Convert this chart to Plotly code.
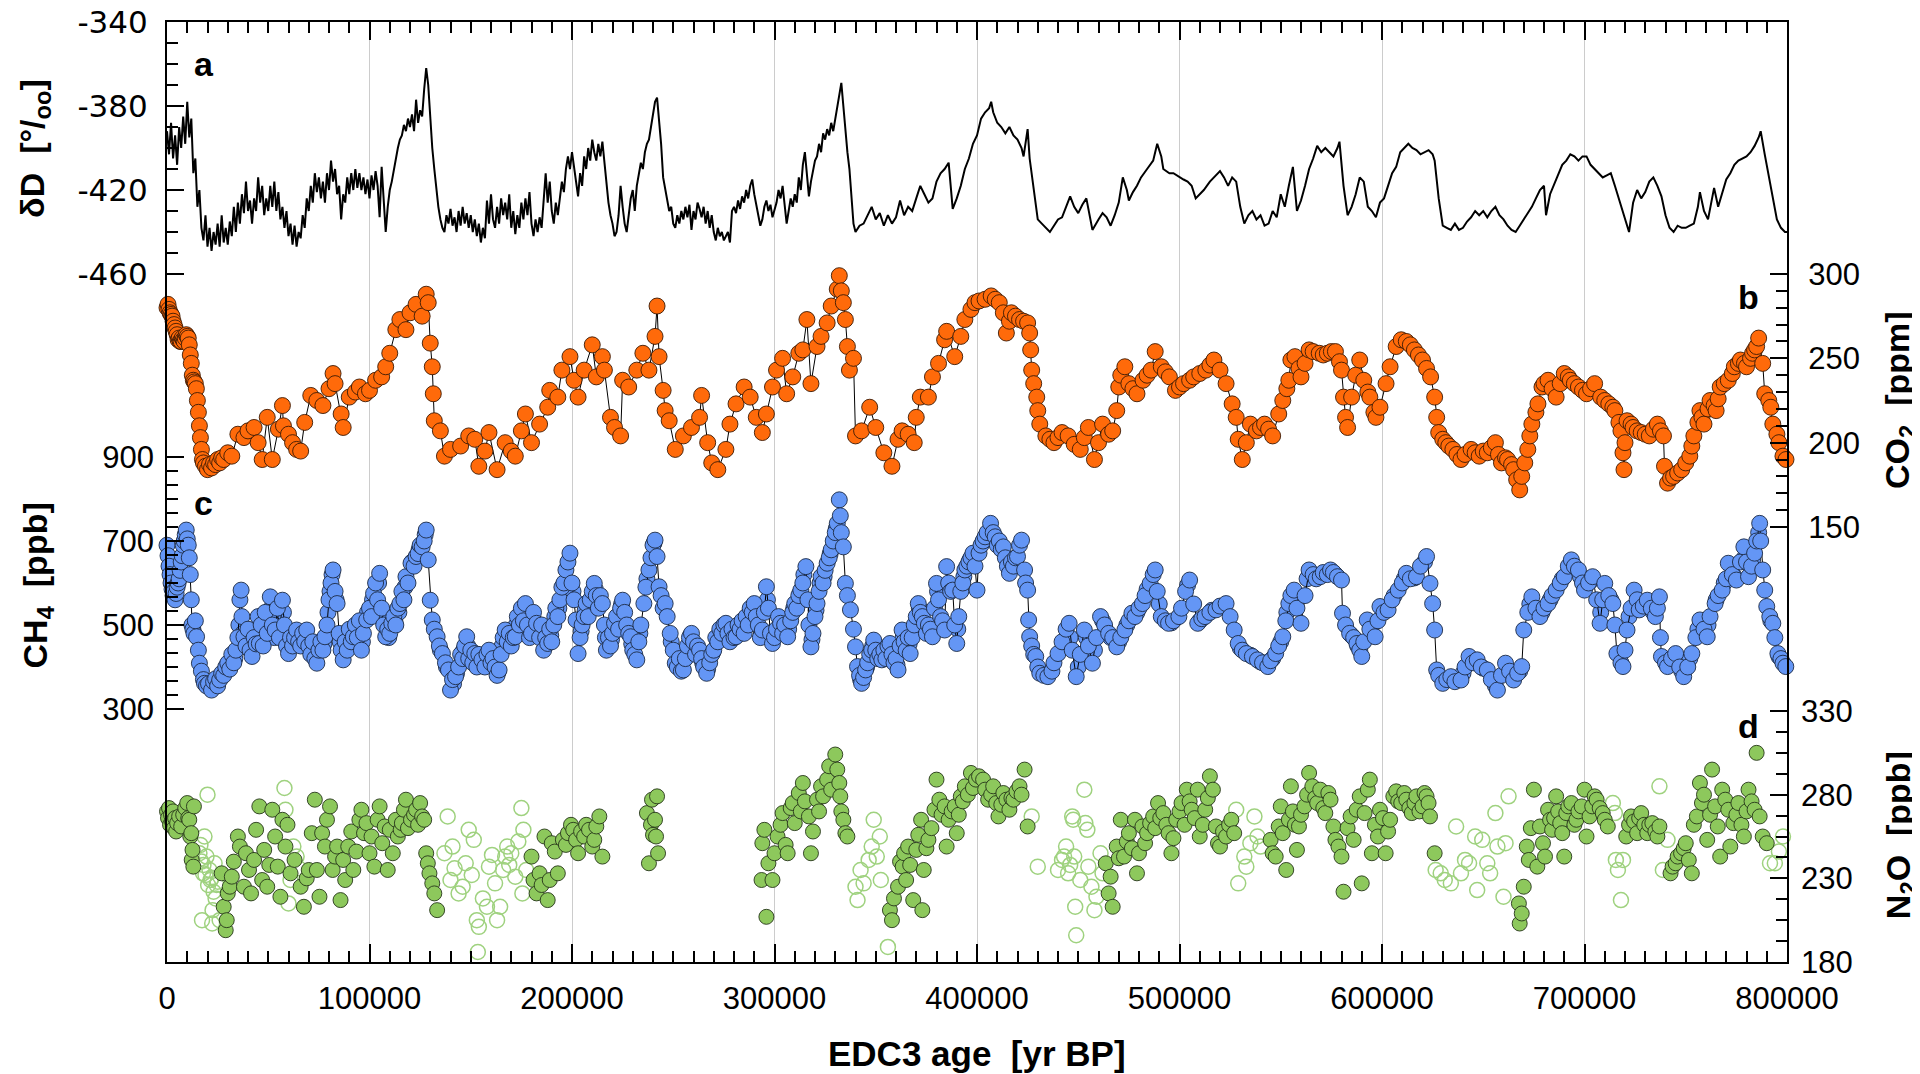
import plotly.graph_objects as go

# ---------------- DATA ----------------
# (a) deltaD [permil] vs EDC3 age [ka]
dd_age_ka = [
    0, 1, 2, 3, 4, 5, 6, 7, 8, 9, 10, 11, 12, 13, 14, 15, 16, 17, 18, 19,
    20, 21, 22, 23, 24, 25, 26, 27, 28, 29, 30, 31, 32, 33, 34, 35, 36, 37, 38, 39,
    40, 41, 42, 43, 44, 45, 46, 47, 48, 49, 50, 51, 52, 53, 54, 55, 56, 57, 58, 59,
    60, 61, 62, 63, 64, 65, 66, 67, 68, 69, 70, 71, 72, 73, 74, 75, 76, 77, 78, 79,
    80, 81, 82, 83, 84, 85, 86, 87, 88, 89, 90, 91, 92, 93, 94, 95, 96, 97, 98, 99,
    100, 101, 102, 103, 104, 105, 106, 107, 108, 109, 110, 111, 112, 113, 114, 115, 116, 117, 118, 119,
    120, 121, 122, 123, 124, 125, 126, 127, 128, 129, 130, 131, 132, 133, 134, 135, 136, 137, 138, 139,
    140, 141, 142, 143, 144, 145, 146, 147, 148, 149, 150, 151, 152, 153, 154, 155, 156, 157, 158, 159,
    160, 161, 162, 163, 164, 165, 166, 167, 168, 169, 170, 171, 172, 173, 174, 175, 176, 177, 178, 179,
    180, 181, 182, 183, 184, 185, 186, 187, 188, 189, 190, 191, 192, 193, 194, 195, 196, 197, 198, 199,
    200, 201, 202, 203, 204, 205, 206, 207, 208, 209, 210, 211, 212, 213, 214, 215, 216, 217, 218, 219,
    220, 221, 222, 223, 224, 225, 226, 227, 228, 229, 230, 231, 232, 233, 234, 235, 236, 237, 238, 239,
    240, 241, 242, 243, 244, 245, 246, 247, 248, 249, 250, 251, 252, 253, 254, 255, 256, 257, 258, 259,
    260, 261, 262, 263, 264, 265, 266, 267, 268, 269, 270, 271, 272, 273, 274, 275, 276, 277, 278, 279,
    280, 281, 282, 283, 284, 285, 286, 287, 288, 289, 290, 291, 292, 293, 294, 295, 296, 297, 298, 299,
    300, 301, 302, 303, 304, 305, 306, 307, 308, 309, 310, 311, 312, 313, 314, 315, 316, 317, 318, 319,
    320, 321, 322, 323, 324, 325, 326, 327, 328, 329, 330, 331, 332, 333, 334, 335, 336, 337, 338, 339, 340,
    342, 344, 346, 348, 350, 352, 354, 356, 358, 360, 362, 364, 366, 368, 370, 372, 374, 376, 378, 380,
    382, 384, 386, 388, 390, 392, 394, 396, 398, 400, 402, 404, 406, 407, 408, 410, 412, 414, 416, 418,
    420, 422, 423, 425, 426, 428, 430, 432, 434, 436, 438, 440, 442, 444, 446, 448, 450, 452, 454, 456,
    457, 460, 462, 464, 466, 468, 470, 472, 474, 475, 477, 479, 481, 484, 487, 489, 491, 492, 495, 497,
    500, 502, 504, 506, 508, 510, 512, 515, 518, 520, 522, 524, 526, 528, 530, 532, 534, 536, 538, 540,
    542, 544, 546, 548, 550, 552, 554, 556, 558, 560, 562, 564, 566, 568, 570, 572, 574, 576, 578, 579,
    581, 583, 585, 587, 589, 591, 593, 595, 597, 599, 601, 603, 605, 607, 609, 611, 613, 615, 617, 619,
    621, 623, 625, 626, 628, 630, 632, 634, 636, 638, 640, 642, 644, 646, 648, 650, 652, 654, 656, 658,
    660, 662, 664, 666, 668, 670, 672, 674, 676, 678, 680, 681, 683, 685, 687, 689, 691, 693, 695, 697,
    699, 701, 703, 705, 707, 709, 711, 713, 715, 717, 719, 721, 722, 724, 726, 728, 730, 732, 734, 736,
    738, 740, 742, 744, 746, 748, 750, 752, 754, 756, 757, 759, 761, 763, 764, 766, 768, 770, 772, 774,
    776, 778, 780, 782, 784, 786, 787, 789, 791, 793, 795, 797, 799, 800,
]
dd_permil = [
    -392, -403, -388, -405, -394, -408, -390, -400, -385, -398, -378, -395, -386, -412, -405, -428, -420, -438, -444, -432,
    -447, -438, -449, -440, -446, -436, -447, -432, -445, -438, -446, -435, -442, -428, -440, -426, -436, -422, -431, -416,
    -430, -425, -436, -424, -430, -414, -426, -418, -432, -424, -430, -418, -428, -416, -430, -421, -434, -428, -438, -430,
    -442, -436, -446, -437, -447, -440, -443, -432, -438, -424, -430, -418, -426, -412, -421, -414, -424, -416, -426, -412,
    -420, -406, -416, -410, -422, -418, -434, -422, -426, -414, -422, -412, -420, -410, -419, -412, -420, -414, -422, -415,
    -424, -413, -420, -411, -418, -433, -409, -424, -440, -428, -420, -416, -410, -405, -400, -396, -394, -389, -392, -386,
    -390, -384, -392, -377, -388, -382, -385, -372, -362, -370, -388, -400, -410, -420, -428, -434, -438, -440, -432, -436,
    -429, -437, -433, -440, -430, -437, -428, -436, -431, -438, -432, -440, -434, -442, -436, -445, -438, -443, -425, -436,
    -422, -434, -438, -428, -436, -424, -432, -426, -434, -422, -438, -430, -441, -432, -438, -426, -434, -424, -432, -421,
    -436, -442, -434, -440, -433, -438, -424, -412, -426, -416, -430, -436, -426, -432, -424, -416, -421, -410, -404, -410,
    -402, -408, -416, -423, -412, -418, -404, -410, -400, -406, -396, -402, -406, -398, -404, -397, -408, -418, -426, -432,
    -436, -442, -440, -432, -418, -428, -436, -440, -433, -424, -420, -430, -418, -412, -407, -410, -402, -398, -396, -390,
    -384, -378, -376, -386, -398, -414, -420, -426, -430, -428, -436, -438, -432, -436, -430, -434, -428, -433, -427, -439,
    -430, -434, -426, -429, -433, -428, -436, -430, -438, -432, -440, -444, -438, -442, -440, -444, -442, -440, -445, -430,
    -428, -431, -425, -429, -423, -426, -420, -424, -418, -415, -422, -428, -432, -437, -434, -428, -425, -430, -427, -433,
    -430, -426, -420, -424, -418, -428, -436, -430, -424, -428, -422, -426, -414, -420, -408, -402, -412, -423, -416, -410,
    -406, -404, -398, -402, -393, -396, -391, -394, -388, -392, -386, -381, -374, -369, -380, -392, -402, -410, -425, -436, -440,
    -437, -436, -432, -428, -434, -431, -437, -432, -436, -433, -425, -432, -428, -430, -424, -418, -422, -426, -424, -416,
    -412, -410, -407, -429, -424, -418, -410, -405, -398, -394, -386, -383, -381, -378, -383, -388, -390, -393, -390, -394,
    -396, -400, -404, -391, -405, -420, -434, -436, -438, -440, -437, -434, -433, -428, -423, -428, -431, -427, -424, -434,
    -439, -434, -431, -433, -437, -432, -426, -414, -420, -425, -421, -418, -414, -410, -406, -398, -404, -410, -412, -412,
    -414, -415, -416, -418, -424, -422, -420, -416, -413, -411, -414, -418, -414, -416, -428, -436, -432, -430, -434, -432,
    -437, -436, -430, -433, -422, -428, -418, -409, -430, -425, -418, -410, -405, -399, -402, -400, -402, -404, -400, -397,
    -418, -432, -428, -422, -414, -416, -428, -430, -433, -426, -424, -418, -412, -409, -402, -400, -398, -400, -401, -403,
    -402, -401, -403, -406, -424, -437, -438, -439, -436, -439, -438, -435, -433, -430, -432, -430, -433, -430, -428, -432,
    -434, -437, -439, -440, -437, -434, -431, -428, -424, -420, -418, -432, -422, -417, -412, -408, -406, -403, -404, -406,
    -404, -404, -408, -410, -412, -414, -413, -412, -418, -424, -430, -437, -440, -426, -420, -424, -421, -416, -414, -418,
    -423, -432, -438, -440, -437, -438, -438, -437, -436, -428, -421, -430, -434, -424, -419, -428, -421, -415, -412, -408,
    -406, -405, -404, -402, -399, -395, -392, -403, -414, -424, -434, -438, -440, -440,
]

# (b) CO2 [ppm] vs age [ka]
co2_age_ka = [
    0, 0.5, 1, 1.5, 2, 2.5, 3, 3.5, 4, 4.5, 5, 5.5, 6, 6.5, 7, 7.5, 8, 8.5, 9, 9.5,
    10, 10.5, 11, 11.5, 12, 12.5, 13, 13.5, 14, 14.5, 15, 15.5, 16, 16.5, 17, 17.5, 18, 19, 20, 21,
    22, 23, 24, 25, 26, 27, 28, 30, 32, 35, 38, 40, 43, 45, 47, 49.5, 52, 55, 57, 57.5,
    60, 62, 64, 66, 68, 71, 74, 77, 80, 82, 83, 86, 87, 90, 93, 95, 98, 100, 103, 106,
    108, 110, 113, 115, 118, 120, 123, 126, 128, 129, 130, 131, 131.5, 132, 135, 137, 140, 145, 149, 152,
    154, 157, 159, 163, 167, 170, 172, 175, 177, 180, 184, 188, 189, 193, 195, 199, 201, 203, 206, 210,
    212, 215, 216, 219, 221, 224, 225, 228, 232, 235, 238, 241, 242, 243, 245, 246, 248, 251, 255, 259,
    263, 264, 267, 269, 272, 276, 278, 281, 285, 288, 291, 294, 296, 299, 301, 304, 306, 309, 312, 314,
    316, 318, 321, 323, 326, 328, 331, 332, 333, 334, 335, 336, 337, 339, 340, 343, 347, 350, 354, 358,
    361, 363, 366, 369, 370, 372, 376, 378, 381, 384, 385, 389, 392, 394, 397, 399,
    401, 404, 407, 409, 411, 413, 414.5, 416, 417, 419, 421, 423, 425, 426, 426.5, 427, 428, 429.5, 430, 431,
    434, 436, 438, 440, 442, 445, 448, 451, 453, 455, 458, 460, 462, 465, 467, 469, 470, 471, 473, 475,
    477, 479, 482, 484, 486, 488, 491, 493, 495, 498, 500, 502, 505, 507, 510, 513, 515, 517, 520, 523,
    526, 528, 529, 531, 533, 535, 538, 540, 542, 544, 546, 549, 551, 553, 554, 555, 557, 559, 560, 562,
    564, 566, 569, 571, 573, 575, 577, 579, 580, 581, 582, 583, 585, 587, 589, 591, 593, 594, 596, 597,
    599, 602, 604, 607, 609.5, 612, 614, 616, 618, 620, 622, 624, 626, 627, 628, 630, 631.5, 633, 635, 637,
    639, 641, 644, 646, 648, 650, 652, 654, 656, 657.5, 659, 661, 662, 664, 665, 666.5, 668, 669, 670.5, 672,
    673, 674, 676, 677, 679, 680, 682, 684, 686, 688, 690, 692, 693, 695, 697, 699, 701, 703, 705, 708,
    710, 712, 714, 715, 717, 718, 719, 719.5, 720, 721, 723, 724, 726, 728, 730, 732, 734, 736, 737.5, 739,
    739.5, 741, 742.5, 744, 746, 748, 750, 752, 753, 754, 756, 757, 758, 759, 761, 762, 764, 765, 766, 767,
    769, 771, 773, 774, 776, 777, 779, 780, 782, 783, 784, 785, 786, 788, 789, 791, 792, 793, 795, 796,
    798, 799.5,
]
co2_ppm = [
    280, 282, 279, 277, 276, 275, 272, 270, 268, 266, 264, 261, 262, 260, 260, 262, 261, 260, 262, 264,
    263, 262, 258, 252, 247, 240, 237, 236, 235, 232, 225, 218, 210, 203, 196, 190, 188, 186, 184, 187,
    185, 188, 187, 190, 188, 191, 190, 194, 192, 205, 203, 207, 209, 200, 190, 215, 190, 208, 222, 210,
    205, 200, 196, 195, 212, 228, 225, 222, 232, 241, 235, 217, 209, 227, 230, 233, 229, 231, 237, 239,
    245, 253, 267, 273, 267, 277, 282, 275, 288, 283, 259, 245, 229, 213, 207, 192, 196, 198, 204, 202,
    186, 195, 206, 184, 200, 195, 192, 207, 217, 200, 211, 221, 231, 227, 243, 251, 237, 227, 243, 258,
    239, 251, 243, 215, 209, 204, 237, 233, 243, 253, 243, 263, 281, 251, 231, 219, 213, 196, 204, 209,
    215, 228, 200, 188, 184, 196, 211, 223, 233, 227, 215, 206, 217, 233, 243, 250, 229, 239, 253, 255,
    273, 235, 257, 263, 271, 281, 291, 299, 290, 283, 273, 257, 243, 250, 204, 207, 221, 209, 194, 186,
    202, 207, 205, 200, 215, 227, 227, 239, 247, 261, 266, 251, 263, 273, 279, 283,
    284, 285, 287, 285, 283, 277, 265, 272, 277, 275, 273, 272, 271, 265, 255, 243, 235, 227, 219, 211,
    204, 202, 200, 203, 206, 204, 199, 196, 203, 209, 190, 200, 211, 205, 207, 219, 233, 240, 245, 235,
    232, 229, 237, 240, 243, 254, 245, 242, 239, 231, 233, 235, 237, 239, 241, 243, 246, 249, 243, 235,
    223, 215, 202, 190, 200, 211, 207, 209, 211, 208, 204, 217, 225, 232, 237, 249, 251, 244, 239, 247,
    255, 254, 253, 252, 253, 254, 254, 248, 243, 227, 215, 209, 227, 240, 249, 237, 230, 227, 218, 215,
    221, 235, 245, 257, 261, 260, 258, 255, 252, 249, 244, 239, 227, 215, 206, 202, 200, 198, 196, 193,
    190, 193, 196, 194, 192, 195, 194, 197, 200, 193, 188, 191, 190, 187, 184, 178, 172, 180, 188, 196,
    204, 211, 218, 223, 233, 235, 237, 232, 227, 235, 241, 239, 237, 235, 233, 231, 229, 232, 235, 227,
    225, 223, 221, 219, 212, 207, 194, 184, 200, 213, 211, 209, 207, 206, 205, 204, 208, 211, 207, 204,
    186, 176, 179, 180, 182, 184, 188, 192, 198, 204, 212, 219, 215, 211, 220, 225, 222, 219, 226, 233,
    235, 237, 241, 245, 247, 249, 247, 245, 250, 253, 255, 257, 262, 247, 229, 225, 221, 211, 205, 200,
    192, 190,
]

# (c) CH4 [ppb] vs age [ka]
ch4_age_ka = [
    0, 0.5, 1, 1.5, 2, 2.5, 3, 3.5, 4, 4.5, 5, 5.5, 6, 6.5, 7, 7.5, 8, 8.5, 9, 9.5,
    10, 10.5, 11, 11.5, 12, 12.3, 12.8, 13.3, 14, 14.6, 15.5, 16, 17, 18, 18.5, 19.5, 20.5, 22, 23, 24,
    25, 26, 27, 28, 29, 30, 31, 32, 33, 34, 35, 36, 36.6, 37, 38, 39, 40, 41, 42, 43,
    44, 45, 45.6, 46.5, 47.5, 48.5, 49.5, 51, 52, 53.4, 54.5, 55.5, 57, 58, 59, 60, 61, 62, 63, 64,
    65, 66, 67, 68, 69, 70, 71, 72, 73, 74, 75, 76, 77, 78, 79, 80, 81, 82, 83, 84,
    85, 86, 87, 88, 89, 90, 91, 92, 93, 94, 95, 96, 97, 98.6, 100, 101, 102, 103, 104, 105,
    106, 107, 108, 109, 110, 111, 112, 113, 114, 115, 116, 117, 118, 119, 120.5, 122, 123, 124, 125, 126,
    127, 128, 129, 130, 131, 132, 133.4, 134.5, 136, 137.5, 139, 140, 141, 142.5, 144, 145, 146, 147, 148, 149,
    150, 151, 152, 153, 154, 155.5, 157, 158, 159, 160, 161, 162, 163, 164, 165, 166, 167, 168, 169, 170,
    171, 172, 173, 174, 175, 176, 177, 178, 179, 180, 181, 182.5, 184, 185, 186, 187, 188, 189, 190, 191,
    192, 193, 194, 195, 196, 197, 198, 199, 200, 201, 202, 203, 204, 205, 206, 207, 208, 209, 210, 211,
    212, 213, 214, 215, 216, 217, 218, 219, 220, 221, 222, 223, 224, 225, 226, 227, 228, 229, 230, 231,
    232, 233, 234, 235.5, 236.5, 238, 239, 240, 241, 242, 243, 244, 245, 246, 247, 248.5, 250, 251, 252, 253,
    254, 255, 256, 257, 258, 259, 260, 261, 262, 263, 264, 265, 266.5, 268, 269, 270, 271, 272, 273, 274,
    275, 276, 277, 278, 279, 280, 281, 282, 283, 284, 285, 286, 287, 288, 289, 290, 291, 292, 293, 294,
    295, 296, 297, 298, 299, 300, 301, 302, 303, 304, 305, 306.5, 308, 309, 310, 311, 312, 313, 314, 315.5,
    316.5, 317, 318, 319, 320, 321, 322, 323, 324, 325, 326, 327, 328, 329, 330, 331, 332, 332.5, 333, 334,
    335, 336, 337.5, 339, 340, 341, 342, 343, 344, 345, 346, 347, 348, 349, 350, 351, 352, 353, 354, 355,
    356, 357, 358, 359, 360, 361, 362, 363, 364, 365, 366, 367, 368, 369, 370, 371, 372, 373, 374, 375,
    376, 377, 378, 379, 380, 381, 382, 383, 384, 385, 386, 387, 388, 389, 390, 391, 392, 393, 394, 395,
    396, 397, 398, 399, 400, 401, 402, 403, 404, 405, 406.7, 408, 409, 410, 411, 412, 413, 414, 415, 416,
    417, 418, 419, 420, 421, 422, 423.5, 424, 425, 425.5, 426, 427, 428, 429, 430, 431, 433, 435, 437, 438,
    440, 442, 444, 445.5, 447, 449, 451, 453, 455, 457, 459, 461, 463, 465, 467, 469, 471, 473, 475, 476.5,
    478, 480, 481.7, 483, 485.5, 487, 488, 489, 491, 493, 494.6, 497, 499.7, 501, 503, 505, 507, 509, 511, 512.6,
    515, 518, 520, 523, 525, 527, 529, 531, 533, 536, 538.5, 541, 543.6, 545, 547.5, 549, 551, 552.5, 554, 555,
    556.6, 558, 560, 562, 564, 566, 567.5, 569.5, 571, 573, 574.6, 576, 578, 580, 580.5, 582, 584, 586, 587.6, 589,
    590, 591, 592.7, 594, 596.6, 598, 599, 601, 603, 605, 608, 610, 612, 614, 617, 619, 622, 623.7, 625, 626,
    627, 628, 630, 632, 634, 636, 639, 641, 643, 645, 647, 649, 652, 654, 657, 659, 661, 663, 665, 667,
    669, 670, 672, 674, 676, 678, 680, 682, 684, 686, 688, 690, 692, 693.5, 695, 697, 699, 700, 702, 704,
    706, 707.7, 709, 710, 712, 714, 715, 716, 718, 719, 720, 721, 723, 724.5, 726, 727, 729, 731, 733, 735,
    736, 737, 737.5, 738, 740, 741, 743, 745, 747, 749, 751, 753, 755, 757, 759, 760.6, 762, 764.5, 766, 768,
    770, 771, 773, 775, 777, 778.7, 780, 781, 782.5, 784, 785, 786.5, 787, 788, 789, 790, 791.5, 793, 794, 795.5,
    797, 798, 799.4,
]
ch4_ppb = [
    690, 665, 640, 620, 600, 585, 570, 580, 560, 575, 590, 600, 610, 630, 650, 665, 690, 700, 715, 726,
    705, 690, 660, 620, 560, 500, 490, 480, 510, 472, 440, 409, 390, 370, 361, 355, 360, 345, 365, 372,
    355, 369, 385, 380, 400, 409, 395, 430, 410, 440, 470, 560, 583, 520, 472, 450, 490, 440, 425, 470,
    455, 520, 456, 500, 450, 530, 480, 567, 500, 488, 540, 470, 559, 500, 450, 432, 470, 450, 470, 488,
    460, 450, 480, 460, 488, 450, 430, 460, 420, 409, 440, 460, 440, 472, 500, 560, 600, 631, 580, 551,
    480, 440, 417, 460, 440, 490, 460, 472, 500, 470, 510, 440, 480, 512, 540, 520, 575, 600, 560, 623,
    540, 500, 472, 490, 480, 504, 520, 500, 540, 551, 580, 560, 615, 600, 647, 640, 663, 670, 690, 686,
    700, 726, 655, 559, 512, 490, 472, 450, 432, 410, 393, 345, 370, 377, 400, 430, 420, 450, 472, 420,
    440, 410, 432, 400, 430, 417, 400, 430, 440, 410, 420, 400, 380, 393, 430, 470, 488, 460, 480, 450,
    470, 472, 520, 500, 540, 510, 551, 500, 470, 480, 530, 504, 470, 500, 440, 470, 456, 490, 460, 500,
    540, 520, 560, 590, 600, 631, 650, 671, 600, 560, 512, 432, 470, 500, 520, 551, 520, 560, 580, 599,
    570, 540, 570, 551, 500, 440, 470, 450, 480, 504, 520, 490, 540, 559, 530, 500, 480, 472, 440, 430,
    417, 460, 500, 551, 590, 631, 660, 690, 702, 663, 591, 570, 540, 551, 520, 480, 440, 409, 400, 420,
    390, 393, 420, 450, 470, 480, 460, 430, 450, 440, 420, 400, 385, 410, 430, 440, 470, 460, 490, 480,
    500, 504, 480, 460, 490, 470, 472, 500, 490, 510, 480, 520, 500, 540, 530, 551, 520, 500, 470, 488,
    530, 591, 540, 480, 456, 470, 490, 520, 504, 480, 500, 472, 510, 530, 551, 540, 570, 583, 600, 639,
    560, 500, 448, 480, 520, 551, 580, 615, 600, 630, 647, 660, 679, 700, 720, 742, 798, 760, 720, 686,
    599, 570, 536, 490, 448, 401, 380, 361, 375, 393, 410, 430, 440, 464, 440, 420, 430, 417, 440, 420,
    450, 456, 430, 410, 420, 393, 450, 488, 460, 440, 470, 432, 470, 500, 520, 551, 530, 520, 504, 480,
    500, 490, 472, 540, 599, 560, 520, 510, 488, 639, 600, 580, 583, 500, 456, 520, 580, 600, 631, 640,
    650, 660, 671, 640, 583, 671, 690, 700, 710, 720, 742, 720, 710, 690, 700, 680, 686, 660, 640, 623,
    650, 640, 660, 663, 690, 702, 631, 600, 583, 512, 472, 450, 430, 425, 400, 385, 380, 377, 390, 410,
    432, 460, 490, 504, 440, 377, 430, 488, 450, 409, 470, 520, 500, 480, 470, 448, 470, 488, 510, 528,
    520, 540, 551, 570, 599, 620, 631, 580, 520, 510, 504, 510, 520, 540, 580, 607, 550, 504, 515, 520,
    530, 536, 545, 551, 520, 488, 456, 440, 432, 425, 417, 410, 401, 415, 432, 450, 472, 510, 551, 570,
    583, 540, 504, 570, 631, 620, 610, 615, 625, 620, 631, 625, 615, 607, 528, 500, 480, 470, 456, 440,
    425, 460, 512, 490, 472, 510, 544, 530, 536, 560, 583, 600, 623, 610, 615, 640, 663, 599, 551, 488,
    393, 380, 361, 370, 377, 365, 369, 400, 425, 410, 417, 400, 393, 370, 345, 380, 409, 390, 369, 385,
    401, 488, 530, 567, 540, 520, 540, 551, 570, 583, 600, 615, 640, 655, 640, 631, 600, 583, 600, 615,
    560, 504, 560, 599, 570, 551, 500, 432, 410, 401, 440, 488, 540, 583, 560, 536, 545, 559, 540, 520,
    540, 567, 470, 425, 410, 401, 420, 432, 400, 377, 400, 432, 470, 512, 490, 472, 520, 551, 570, 583,
    610, 647, 620, 607, 650, 686, 650, 615, 640, 671, 700, 742, 700, 631, 583, 544, 520, 504, 470, 432,
    420, 409, 401,
]
# additional densely spaced CH4 samples (drawn as markers)
ch4_extra_age_ka = [
    21, 23.5, 26.5, 29.5, 31.5, 33.5, 35.5, 37.5, 39.5, 41.5, 44.5, 46, 47, 48, 50, 51.5, 53, 54, 56, 57.5,
    59.5, 62.5, 65.5, 68.5, 72.5, 75.5, 77.5, 79.5, 80.5, 81.5, 83.5, 85.5, 88.5, 90.5, 93.5, 96.5, 99, 101.5, 104.5, 106.5,
    109.5, 112.5, 114.5, 117.5, 121, 124.5, 127.5,
    135, 138, 141.5, 143, 146.5, 148.5, 150.5, 152.5, 156, 158.5, 160.5, 163.5, 165.5, 167.5, 169.5, 172.5, 174.5, 176.5, 178.5, 180.5,
    183, 185.5, 187.5, 189.5, 191.5, 193.5, 200.5, 204.5, 206.5, 208.5, 211.5, 213.5, 216.5, 219.5, 222.5, 224.5, 227.5, 229.5, 233.5, 237,
    240.5, 249, 253.5, 256.5, 258.5, 261.5, 264.5, 267, 269.5, 272.5, 274.5, 277.5, 280.5, 282.5, 285.5, 288.5, 290.5, 293.5, 296.5, 300.5,
    303.5, 307, 309.5, 312.5, 314.5, 318.5, 320.5, 322.5, 324.5, 327.5, 330.5,
    342.5, 345.5, 348.5, 351.5, 354.5, 357.5, 360.5, 363.5, 366.5, 368.5, 371.5, 374.5, 377.5, 380.5, 383.5, 386.5, 390.5, 393.5, 396.5,
    446, 450, 454, 458, 462, 466, 470, 474, 479, 484, 490, 496, 504, 510, 516, 530, 535, 540, 546, 550,
    553, 557, 563, 570, 577, 585, 588, 595, 600, 606, 611, 616, 621, 633, 640, 650, 656, 662, 668, 673,
    679, 683, 689, 694, 698, 703, 708, 713, 722, 728, 734, 742, 748, 752, 756, 761, 765, 769, 774, 779,
    783, 786, 792, 796,
]
ch4_extra_ppb = [
    352, 360, 375, 392, 405, 420, 500, 480, 470, 455, 480, 510, 470, 500, 520, 540, 470, 520, 500, 530,
    470, 460, 470, 470, 440, 450, 455, 530, 580, 620, 560, 460, 450, 480, 485, 460, 530, 560, 600, 520,
    470, 510, 530, 590, 650, 680, 715,
    440, 400, 360, 385, 440, 450, 425, 415, 410, 420, 415, 388, 450, 475, 465, 500, 520, 530, 485, 505,
    490, 470, 460, 475, 520, 540, 580, 485, 535, 540, 585, 555, 470, 465, 505, 550, 490, 455, 480, 610,
    695, 460, 405, 435, 475, 440, 410, 395, 435, 475, 490, 470, 480, 495, 500, 535, 535, 480, 560, 480,
    490, 490, 540, 575, 620, 465, 535, 600, 615, 670, 730,
    370, 400, 450, 425, 430, 440, 405, 470, 455, 485, 540, 490, 480, 580, 500, 590, 490, 615, 655,
    470, 400, 470, 440, 510, 470, 460, 500, 530, 585, 550, 505, 595, 510, 535, 445, 428, 412, 420, 460,
    530, 570, 610, 620, 620, 475, 450, 480, 540, 570, 610, 612, 650, 372, 385, 397, 355, 395, 390, 550,
    530, 560, 610, 645, 615, 605, 530, 560, 520, 540, 530, 410, 390, 420, 490, 500, 560, 600, 615, 660,
    655, 720, 510, 425,
]

# (d) N2O [ppb] vs age [ka]; filled = reliable, open = artefact-affected
n2o_age_ka = [
    0, 0.5, 1, 1.5, 2, 2.5, 3, 3.5, 4, 4.5, 5, 6, 7, 8, 9, 10, 10.5, 11, 11.5, 12,
    12.2, 12.6, 13, 13.3, 27, 28, 29, 29.5, 30, 31, 32, 33, 35, 36, 38, 39, 40.5, 41.5, 43, 44,
    45.6, 47, 48, 49.5, 50.5, 52, 53.4, 54.7, 56, 57, 58.5, 59.5, 61, 63, 66, 67.6, 69, 70, 71.5, 73,
    74, 75.3, 76.6, 78, 79, 80.5, 81.8, 83, 84, 85.7, 87, 88, 89.5, 91, 92, 93.5, 95, 96, 97.3, 98.5,
    100, 101, 102.4, 104, 105, 106.3, 107.5, 109, 110, 111.5, 113, 114, 115.4, 116, 117, 118, 119, 120.5, 122, 123,
    124, 125, 126, 127, 128, 128.8, 129.6, 131, 132, 133.4,
    180, 181, 182.5, 184, 185, 186.4, 188, 189, 190, 191.5, 193, 195.5, 197, 198, 199.5, 200.6, 202, 203, 204.5, 206,
    207, 208.4, 210, 211, 212, 213.5, 215, 237, 238, 239, 239.5, 240, 241, 241.5, 242, 242.5,
    293.6, 294, 295, 296, 297, 299, 300, 301.5, 303, 304, 305.5, 306.5, 308, 309, 310, 312, 313, 314, 315, 317,
    318, 319, 321, 322, 323, 324, 326, 327, 328, 330, 331, 332, 332.5, 333, 334, 335, 336,
    357, 358, 359, 361, 362, 363.3, 364, 365, 366, 367, 368.5, 370, 371, 372.4, 373, 373.7, 375, 376, 377.5, 379,
    380, 381.4, 382.5, 384, 385, 386, 387.5, 389, 390, 391, 392, 393, 394, 395.5, 397, 398, 399.5,
    401, 403, 404, 405.5, 407, 408, 409.5, 410.6, 412, 413, 414.5, 416, 417, 418, 419.5, 421, 422, 423.5, 425,
    463.6, 465, 466, 467, 469, 470, 471, 472.6, 474, 475, 476.5, 478, 479, 480, 481.7, 483, 484, 485.5, 487, 488,
    489.4, 490.5, 492, 493.5, 494.6, 496, 497, 498.4, 500, 501, 502.5, 503.6, 505, 506, 507.5, 509, 510, 511.5, 512.7, 514,
    515, 516.5, 518, 519, 520, 521.5, 523, 524.5, 525.6, 527,
    545, 546, 547.5, 549, 550, 551, 552.7, 554, 555, 556, 557, 558, 559, 560, 561.7, 563, 564, 565.6, 567, 568,
    569.5, 571, 572, 573.5, 574.6, 576, 577, 578.5, 580, 581, 583, 584.5, 586, 587.5, 589, 590, 591.4, 593, 594, 595,
    596.5, 598, 599, 600.5, 601.8, 603, 604, 605.6, 607, 608, 609.5, 611, 612, 613.5, 614.7, 616, 617, 618.5, 620, 621,
    622, 623, 623.7, 626,
    667.6, 668, 669, 670, 671.5, 672.5, 673.5, 675, 676.7, 678, 679.5, 680.5, 682, 683, 684, 685, 686, 687, 688, 689,
    690, 691, 692, 693.5, 695, 696, 697, 698.6, 700, 701, 702.5, 703.8, 705, 706, 707.5, 709, 710, 711.5,
    720.6, 722, 723, 724.5, 726, 727, 728, 729.5, 731, 732, 733.5, 735, 736, 737, 742.5, 743.5, 745, 746, 747.7, 749,
    750, 751.5, 753, 754, 755.5, 757, 758, 759, 760.6, 762, 763, 764.5, 765.8, 767, 768, 769.5, 771, 772, 773.5, 775,
    776, 777.5, 778.7, 780, 781, 782.5, 784, 785, 786.5, 788, 790,
]
n2o_ppb = [
    270, 266, 272, 262, 268, 264, 270, 260, 266, 258, 263, 267, 261, 268, 272, 275, 266, 265, 255, 257,
    241, 247, 237, 273, 233, 213, 199, 205, 221, 225, 231, 240, 255, 249, 225, 245, 235, 221, 241, 259,
    273, 229, 247, 225, 238, 271, 255, 237, 219, 265, 249, 262, 233, 241, 225, 213, 230, 235, 257, 277,
    235, 219, 257, 249, 265, 273, 235, 243, 249, 217, 241, 229, 249, 258, 235, 246, 265, 271, 257, 263,
    245, 255, 237, 265, 273, 251, 261, 235, 259, 245, 265, 255, 259, 263, 271, 277, 260, 265, 268, 271,
    262, 275, 267, 265, 245, 239, 233, 227, 221, 211,
    243, 229, 221, 233, 226, 255, 217, 229, 251, 246, 233, 253, 250, 257, 262, 259, 253, 245, 258, 255,
    262, 259, 249, 253, 261, 267, 243, 269, 239, 262, 277, 256, 265, 255, 279, 245,
    229, 251, 259, 207, 239, 229, 245, 255, 262, 269, 250, 245, 272, 275, 263, 281, 270, 287, 276, 267,
    245, 258, 277, 270, 285, 279, 289, 297, 283, 304, 295, 287, 279, 270, 265, 257, 255,
    211, 205, 218, 225, 240, 237, 245, 229, 249, 238, 217, 247, 256, 265, 211, 235, 248, 253, 260, 271,
    289, 277, 268, 273, 249, 265, 270, 273, 257, 268, 279, 276, 285, 280, 293, 284, 289,
    291, 289, 283, 277, 280, 285, 275, 267, 274, 281, 277, 271, 278, 277, 282, 285, 280, 295, 261,
    239, 221, 231, 213, 249, 242, 265, 243, 252, 257, 248, 265, 233, 245, 261, 251, 257, 263, 267, 260,
    275, 266, 269, 262, 257, 245, 254, 265, 270, 275, 262, 283, 276, 271, 266, 283, 255, 262, 271, 278,
    291, 283, 261, 251, 249, 258, 255, 262, 265, 257,
    253, 245, 243, 261, 273, 257, 235, 265, 285, 270, 262, 247, 261, 268, 273, 280, 293, 285, 278, 275,
    283, 272, 269, 281, 277, 261, 253, 249, 243, 222, 260, 267, 253, 271, 279, 227, 269, 283, 289, 245,
    262, 255, 271, 266, 245, 258, 265, 279, 282, 276, 275, 281, 277, 272, 269, 275, 279, 270, 273, 281,
    279, 275, 267, 245,
    215, 203, 209, 225, 249, 241, 260, 283, 237, 261, 251, 243, 271, 265, 259, 266, 279, 270, 263, 257,
    243, 269, 273, 275, 262, 265, 270, 273, 283, 255, 267, 273, 279, 277, 272, 269, 265, 261,
    255, 262, 267, 264, 257, 266, 269, 262, 257, 262, 263, 258, 255, 261, 233, 237, 239, 243, 245, 248,
    251, 241, 233, 262, 267, 287, 275, 280, 253, 268, 295, 273, 261, 243, 283, 277, 271, 249, 263, 268,
    275, 262, 255, 270, 283, 276, 271, 305, 267, 255, 251,
]
n2o_open_age_ka = [
    16, 16.5, 17, 17.3, 17.8, 18, 18.5, 19, 19.5, 20, 20.3, 21, 21.5, 22, 22.3, 22.5, 23, 23.5, 24, 24.5,
    25, 26, 58, 58.5, 60, 61, 62.4, 64, 65,
    137, 138.6, 140, 141, 142, 144, 146, 147.5, 149, 150.5, 151.5, 153, 153.5, 154, 156, 158, 159, 160.5, 162, 163,
    164.5, 166, 167, 168, 169, 170, 172, 173.5, 175, 175.5, 176, 177.4,
    340, 341, 342.5, 344, 346.5, 348, 349, 350.5, 352, 352.5, 356,
    427, 430, 440, 442, 443, 444, 445, 446, 447, 447.5, 448, 448.5, 449, 451, 453, 453.5, 454.5, 455, 456.5, 458,
    459, 461, 462, 528, 529, 532, 533, 535, 537, 538.5, 540,
    626.5, 629, 631, 634, 636.6, 639, 641, 643, 646, 647, 649.5, 652, 653.4, 656, 657, 660, 661, 662.5,
    714, 715, 715.5, 716.5, 718, 719, 737, 738.7, 741, 791.6, 794, 796, 798,
]
n2o_open_ppb = [
    245, 250, 240, 205, 233, 238, 255, 232, 243, 280, 226, 235, 229, 230, 203, 211, 222, 239, 218, 226,
    228, 205, 284, 271, 215, 229, 249, 243, 236,
    245, 267, 229, 249, 236, 221, 225, 239, 259, 232, 253, 205, 186, 201, 218, 213, 237, 244, 227, 205,
    213, 235, 243, 249, 238, 245, 231, 252, 272, 221, 259, 235,
    225, 217, 235, 227, 241, 249, 265, 243, 255, 229, 189,
    267, 237, 235, 241, 243, 249, 233, 238, 267, 265, 243, 213, 196, 229, 283, 263, 259, 237, 225, 211,
    219, 245, 233, 271, 227, 243, 237, 251, 267, 255, 249,
    235, 233, 229, 227, 261, 233, 241, 239, 255, 223, 253, 239, 233, 269, 249, 219, 251, 279,
    275, 269, 241, 235, 217, 241, 285, 235, 253, 239, 239, 246, 255,
]

# axis ticks / labels
x_ticks = [0, 100000, 200000, 300000, 400000, 500000, 600000, 700000, 800000]
x_tick_labels = ["0", "100000", "200000", "300000", "400000", "500000", "600000", "700000", "800000"]
dd_ticks = [-460, -420, -380, -340]
dd_tick_labels = ["-460", "-420", "-380", "-340"]
dd_minor = [-450, -440, -430, -410, -400, -390, -370, -360, -350]
co2_ticks = [150, 200, 250, 300]
co2_minor = [160, 170, 180, 190, 210, 220, 230, 240, 260, 270, 280, 290]
ch4_ticks = [300, 500, 700, 900]
ch4_minor = [333.3, 366.7, 400, 433.3, 466.7, 533.3, 566.7, 600, 633.3, 666.7, 733.3, 766.7, 800, 833.3, 866.7]
n2o_ticks = [180, 230, 280, 330]
n2o_minor = [192.5, 205, 217.5, 242.5, 255, 267.5, 292.5, 305, 317.5]

# ---------------- FIGURE ----------------
KA = 1000
FONT = "Liberation Sans, Arial, Helvetica, sans-serif"
FONT_WIDE = "DejaVu Sans, Verdana, sans-serif"
CO2_COL, CH4_COL, N2O_COL, N2O_OPEN = "#ff6a0a", "#6496f5", "#8dc85c", "#9fd27f"

fig = go.Figure()
fig.add_trace(go.Scatter(
    x=[a * KA for a in dd_age_ka], y=dd_permil, mode="lines",
    line=dict(color="black", width=2), yaxis="y", hoverinfo="skip"))
fig.add_trace(go.Scatter(
    x=[a * KA for a in co2_age_ka], y=co2_ppm, mode="lines+markers", yaxis="y2",
    line=dict(color="black", width=1),
    marker=dict(size=16, color=CO2_COL, line=dict(color="#3b1a05", width=0.9)),
    cliponaxis=False, hoverinfo="skip"))
fig.add_trace(go.Scatter(
    x=[a * KA for a in ch4_extra_age_ka], y=ch4_extra_ppb, mode="markers", yaxis="y3",
    marker=dict(size=16, color=CH4_COL, line=dict(color="#1c2a44", width=0.9)),
    cliponaxis=False, hoverinfo="skip"))
fig.add_trace(go.Scatter(
    x=[a * KA for a in ch4_age_ka], y=ch4_ppb, mode="lines+markers", yaxis="y3",
    line=dict(color="black", width=1),
    marker=dict(size=16, color=CH4_COL, line=dict(color="#1c2a44", width=0.9)),
    cliponaxis=False, hoverinfo="skip"))
fig.add_trace(go.Scatter(
    x=[a * KA for a in n2o_open_age_ka], y=n2o_open_ppb, mode="markers", yaxis="y4",
    marker=dict(size=15, color="rgba(0,0,0,0)", line=dict(color=N2O_OPEN, width=1.5)),
    cliponaxis=False, hoverinfo="skip"))
fig.add_trace(go.Scatter(
    x=[a * KA for a in n2o_age_ka], y=n2o_ppb, mode="markers", yaxis="y4",
    marker=dict(size=15, color=N2O_COL, line=dict(color="#26361a", width=0.9)),
    cliponaxis=False, hoverinfo="skip"))

tickfont = dict(family=FONT, size=31, color="black")
common_y = dict(ticks="inside", ticklen=17, tickwidth=2, tickcolor="black",
                showgrid=False, zeroline=False, automargin=False, ticklabeloverflow="allow")

# the page body adds an 8 px offset, so the margins are reduced accordingly
fig.update_layout(
    width=1920, height=1074,
    margin=dict(l=159, r=141, t=14, b=120, autoexpand=False),
    paper_bgcolor="white", plot_bgcolor="white",
    showlegend=False,
    xaxis=dict(range=[0, 800000], tickvals=x_ticks, ticktext=x_tick_labels,
               ticks="inside", ticklen=18, tickwidth=2, tickcolor="black",
               showline=True, linewidth=2, linecolor="black", mirror="ticks",
               showgrid=True, gridcolor="#cccccc", gridwidth=1, zeroline=False,
               tickfont=tickfont, ticklabelstandoff=8, automargin=False, ticklabeloverflow="allow",
               minor=dict(dtick=10000, ticks="inside", ticklen=11, tickwidth=1.6,
                          tickcolor="black", showgrid=False)),
    yaxis=dict(range=[-787.6, -340], tickvals=dd_ticks, ticktext=dd_tick_labels,
               side="left", showline=True, linewidth=2, linecolor="black",
               tickfont=dict(family=FONT_WIDE, size=31, color="black"), ticklabelstandoff=11,
               minor=dict(tickvals=dd_minor, ticks="inside", ticklen=11, tickwidth=1.6, tickcolor="black"),
               **common_y),
    yaxis2=dict(range=[-107.9, 449.4], tickvals=co2_ticks, overlaying="y", side="right", anchor="x",
                showline=True, linewidth=2, linecolor="black", tickfont=tickfont, ticklabelstandoff=13,
                minor=dict(tickvals=co2_minor, ticks="inside", ticklen=11, tickwidth=1.6, tickcolor="black"),
                **common_y),
    yaxis3=dict(range=[-302.4, 1935.7], tickvals=ch4_ticks, overlaying="y", side="left", anchor="x",
                showline=False, tickfont=tickfont, ticklabelstandoff=12,
                minor=dict(tickvals=ch4_minor, ticks="inside", ticklen=11, tickwidth=1.6, tickcolor="black"),
                **common_y),
    yaxis4=dict(range=[180, 741.8], tickvals=n2o_ticks, overlaying="y", side="right", anchor="x",
                showline=False, tickfont=tickfont, ticklabelstandoff=13,
                minor=dict(tickvals=n2o_minor, ticks="inside", ticklen=11, tickwidth=1.6, tickcolor="black"),
                **common_y),
)

annots = [
    dict(text="δD  [°/<sub>oo</sub>]", x=-0.0815, y=0.866, textangle=-90, size=34),
    dict(text="CH<sub>4</sub>  [ppb]", x=-0.080, y=0.401, textangle=-90, size=34),
    dict(text="CO<sub>2</sub>  [ppm]", x=1.0698, y=0.598, textangle=-90, size=34),
    dict(text="N<sub>2</sub>O  [ppb]", x=1.0698, y=0.135, textangle=-90, size=34),
    dict(text="EDC3 age  [yr BP]", x=0.5, y=-0.097, textangle=0, size=35),
    dict(text="a", x=0.0228, y=0.955, textangle=0, size=34),
    dict(text="b", x=0.9765, y=0.7074, textangle=0, size=34),
    dict(text="c", x=0.0228, y=0.488, textangle=0, size=34),
    dict(text="d", x=0.976, y=0.251, textangle=0, size=34),
]
for a in annots:
    fig.add_annotation(text="<b>" + a["text"] + "</b>", x=a["x"], y=a["y"], xref="paper", yref="paper",
                       xanchor="center", yanchor="middle", textangle=a["textangle"],
                       showarrow=False, font=dict(family=FONT, size=a["size"], color="black"))

fig.write_html("out.html")
